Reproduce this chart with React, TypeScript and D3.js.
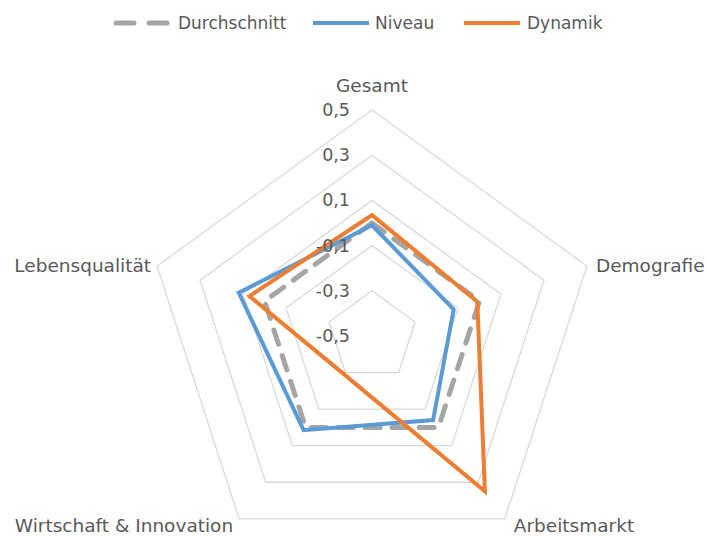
import React from "react";
import * as d3 from "d3";

// Werte
const categories = ["Gesamt", "Demografie", "Arbeitsmarkt", "Wirtschaft & Innovation", "Lebensqualität"];
const durchschnitt = [0, 0, 0, 0, 0];
const niveau = [-0.01, -0.12, -0.04, 0.015, 0.12];
const dynamik = [0.035, -0.01, 0.35, -0.29, 0.07];
const ticks = [-0.5, -0.3, -0.1, 0.1, 0.3, 0.5];

const series = [
  { name: "Durchschnitt", values: durchschnitt, color: "#A5A5A5", dash: "15 12" },
  { name: "Niveau", values: niveau, color: "#5B9BD5", dash: null },
  { name: "Dynamik", values: dynamik, color: "#ED7D31", dash: null },
];

const W = 707;
const H = 536;
const cx = 372;
const cy = 336;
const R = 226;
const font = "'DejaVu Sans', Verdana, sans-serif";
const textColor = "#595959";

const locale = d3.formatLocale({ decimal: ",", thousands: ".", grouping: [3], currency: ["", "€"], minus: "-" });
const fmt = locale.format(".1f");

export default function App() {
  const r = d3.scaleLinear().domain([-0.5, 0.5]).range([0, R]);
  const angle = (i: number) => (i / categories.length) * 2 * Math.PI;

  const line = d3
    .lineRadial<number>()
    .angle((d, i) => angle(i))
    .radius((d) => r(d))
    .curve(d3.curveLinearClosed);

  const rings = ticks.filter((t) => t > -0.5);

  const legendItems = [
    { s: series[0], x: 114, tx: 178 },
    { s: series[1], x: 313, tx: 375 },
    { s: series[2], x: 464, tx: 527 },
  ];

  return (
    <svg width={W} height={H} style={{ position: "absolute", left: 0, top: 0, background: "#fff" }}>
      {/* Legende */}
      <g>
        {legendItems.map(({ s, x, tx }) => (
          <g key={s.name}>
            <line
              x1={x + (s.dash ? 2 : 0)}
              x2={x + 56}
              y1={23}
              y2={23}
              stroke={s.color}
              strokeWidth={s.dash ? 5 : 4}
              strokeDasharray={s.dash ? "18 15" : undefined}
              strokeLinecap={s.dash ? "round" : "butt"}
            />
            <text x={tx} y={23} dominantBaseline="central" fontFamily={font} fontSize={17} fill={textColor}>
              {s.name}
            </text>
          </g>
        ))}
      </g>

      <g transform={`translate(${cx},${cy})`}>
        {/* Gitternetz */}
        {rings.map((t) => (
          <path
            key={t}
            d={line(categories.map(() => t)) ?? ""}
            fill="none"
            stroke="#D9D9D9"
            strokeWidth={1.3}
          />
        ))}

        {/* Datenreihen */}
        {series.map((s) => (
          <path
            key={s.name}
            d={line(s.values) ?? ""}
            fill="none"
            stroke={s.color}
            strokeWidth={s.dash ? 5 : 4}
            strokeDasharray={s.dash ?? undefined}
            strokeLinecap={s.dash ? "round" : "butt"}
            strokeLinejoin="miter"
          />
        ))}

        {/* Achsenbeschriftung */}
        {ticks.map((t) => (
          <text
            key={t}
            x={-22}
            y={-r(t)}
            textAnchor="end"
            dominantBaseline="central"
            fontFamily={font}
            fontSize={17.5}
            fill={textColor}
          >
            {fmt(t)}
          </text>
        ))}

        {/* Kategorien */}
        {categories.map((c, i) => {
          const a = angle(i);
          const sx = Math.sin(a);
          const cyv = -Math.cos(a);
          let x = sx * R;
          let y = cyv * R;
          const anchor = sx > 0.1 ? "start" : sx < -0.1 ? "end" : "middle";
          x += sx > 0.1 ? 9 : sx < -0.1 ? -6 : 0;
          let baseline = "central";
          if (cyv < -0.9) {
            y -= 18;
            baseline = "auto";
          } else if (cyv > 0.5) {
            y += 13;
            baseline = "auto";
          } else {
            y -= 1;
          }
          return (
            <text
              key={c}
              x={x}
              y={y}
              textAnchor={anchor}
              dominantBaseline={baseline}
              fontFamily={font}
              fontSize={18.5}
              fill={textColor}
            >
              {c}
            </text>
          );
        })}
      </g>
    </svg>
  );
}
